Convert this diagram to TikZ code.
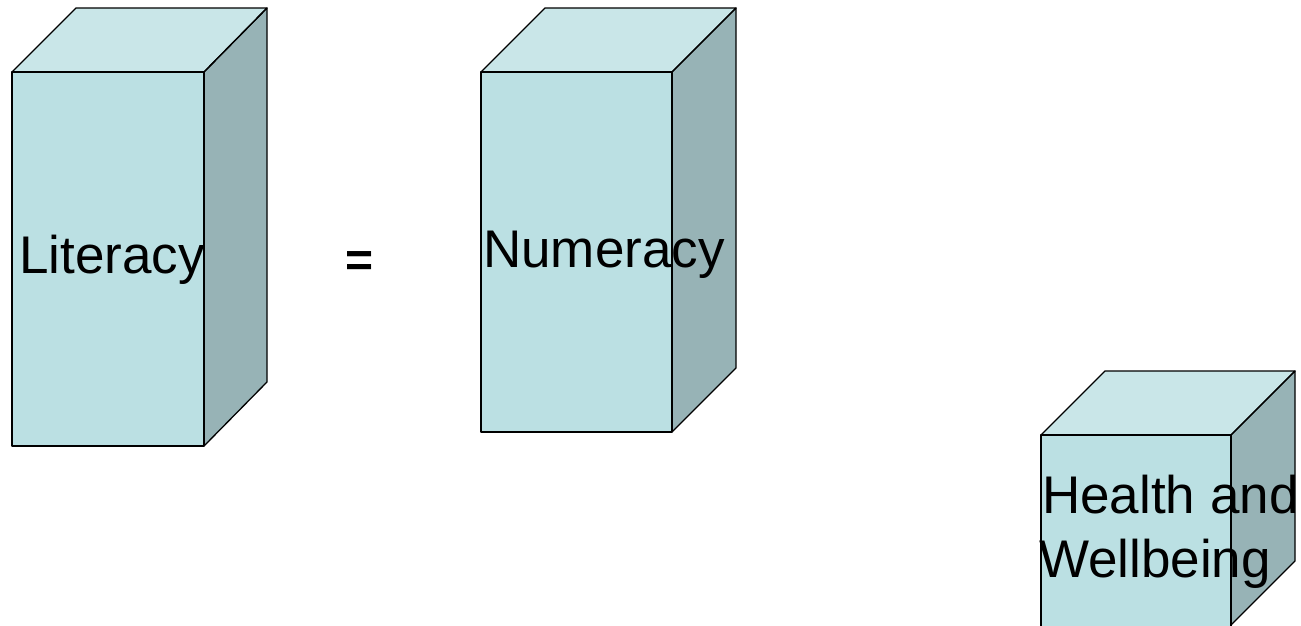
\documentclass[tikz,border=0pt]{standalone}
\usepackage{fontspec}
\setmainfont{Liberation Sans}
\definecolor{frontc}{HTML}{BBE0E3}
\definecolor{topc}{HTML}{C9E6E8}
\definecolor{sidec}{HTML}{97B3B6}
\tikzset{
  face/.style={draw=black, line width=1.3pt, line join=round},
  lbl/.style={anchor=base west, inner sep=0pt, font=\fontsize{53}{55}\selectfont},
}
\begin{document}
\begin{tikzpicture}[x=1pt, y=-1pt]
\useasboundingbox (0,0) rectangle (1301,625);
% Literacy cube
\fill[topc] (12,72) -- (76,8) -- (267,8) -- (204,72) -- cycle;
\fill[sidec] (204,72) -- (267,8) -- (267,382) -- (204,446) -- cycle;
\fill[frontc] (12,72) rectangle (204,446);
\draw[face] (12,72) -- (76,8) -- (267,8) -- (204,72) -- cycle;
\draw[face] (204,72) -- (267,8) -- (267,382) -- (204,446);
\draw[face] (12,72) rectangle (204,446);
% Numeracy cube
\fill[topc] (481,72) -- (545,8) -- (736,8) -- (672,72) -- cycle;
\fill[sidec] (672,72) -- (736,8) -- (736,368) -- (672,432) -- cycle;
\fill[frontc] (481,72) rectangle (672,432);
\draw[face] (481,72) -- (545,8) -- (736,8) -- (672,72) -- cycle;
\draw[face] (672,72) -- (736,8) -- (736,368) -- (672,432);
\draw[face] (481,72) rectangle (672,432);
% Health cube (cut off at bottom)
\fill[topc] (1041,435) -- (1105,371) -- (1295,371) -- (1231,435) -- cycle;
\fill[sidec] (1231,435) -- (1295,371) -- (1295,561) -- (1231,625) -- cycle;
\fill[frontc] (1041,435) rectangle (1231,626);
\draw[face] (1041,435) -- (1105,371) -- (1295,371) -- (1231,435) -- cycle;
\draw[face] (1231,435) -- (1295,371) -- (1295,561) -- (1231,625);
\draw[face] (1041,626) -- (1041,435) -- (1231,435) -- (1231,626);
% labels
\node[lbl] (lit) at (19,273) {Literacy};
\node[lbl] (num) at (483,267) {Numeracy};
\node[lbl] (hw1) at (1042,513) {Health and};
\node[lbl] (hw2) at (1039,577) {Wellbeing};
\node[lbl, font=\fontsize{48}{50}\selectfont\bfseries] (eq) at (345,276) {=};
\end{tikzpicture}
\end{document}
